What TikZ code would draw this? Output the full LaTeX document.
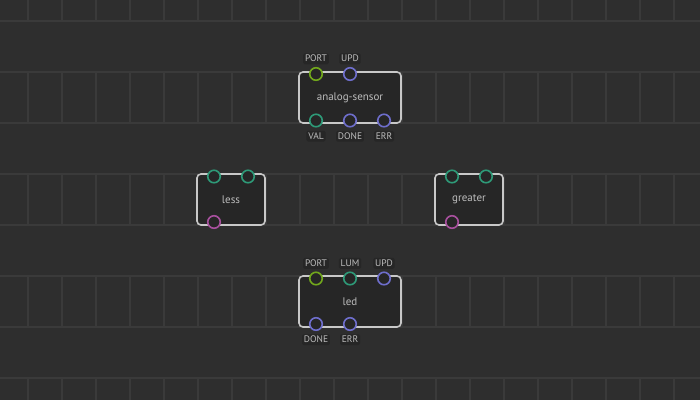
\documentclass[tikz,border=0pt]{standalone}
\usepackage{fontspec}
\setmainfont{PT Sans}
\usetikzlibrary{positioning}

\definecolor{bgcol}{HTML}{2E2E2E}
\definecolor{gridcol}{HTML}{3A3A3A}
\definecolor{boxcol}{HTML}{262626}
\definecolor{edgecol}{HTML}{C8C8C8}
\definecolor{textcol}{HTML}{BDBDBD}
\definecolor{cport}{HTML}{72A81C}
\definecolor{cpulse}{HTML}{6E6ECC}
\definecolor{cnum}{HTML}{2E9A78}
\definecolor{cbool}{HTML}{A8509E}

\begin{document}
\begin{tikzpicture}[x=1pt,y=-1pt,
  patch/.style={draw=edgecol, line width=1.6pt, fill=boxcol, rounded corners=4pt, minimum height=51pt, inner sep=0pt, text=textcol, font=\fontsize{11}{13}\selectfont},
  pin/.style={circle, draw=#1, line width=1.6pt, fill=boxcol, minimum size=12.5pt, inner sep=0pt},
  pinlabel/.style={fill=boxcol, rounded corners=1.5pt, text=textcol, font=\fontsize{9.5}{11}\selectfont, inner sep=1.8pt, text height=6.8pt, text depth=0.5pt}]
  % background and grid
  \fill[bgcol] (0,0) rectangle (700,400);
  \useasboundingbox (0,0) rectangle (700,400);
  \foreach \y in {21,72,...,378}
    \draw[gridcol, line width=1.8pt] (0,\y) -- (700,\y);
  \foreach \band in {-30,72,174,276,378}
    \foreach \x in {28,62,...,680}
      \draw[gridcol, line width=1.8pt] (\x,{max(\band,0)}) -- (\x,{min(\band+51,400)});

  % analog-sensor
  \node[patch, minimum width=102pt] (sensor) at (350,97.5) {analog-sensor};
  \node[pin=cport] (sensorPORT) at (316,74) {};
  \node[pin=cpulse] (sensorUPD) at (350,74) {};
  \node[pin=cnum] (sensorVAL) at (316,120.5) {};
  \node[pin=cpulse] (sensorDONE) at (350,120.5) {};
  \node[pin=cpulse] (sensorERR) at (384,120.5) {};
  \node[pinlabel, above=2.5pt of sensorPORT] (lsensorPORT) {PORT};
  \node[pinlabel, above=2.5pt of sensorUPD] (lsensorUPD) {UPD};
  \node[pinlabel, below=3pt of sensorVAL] (lsensorVAL) {VAL};
  \node[pinlabel, below=3pt of sensorDONE] (lsensorDONE) {DONE};
  \node[pinlabel, below=3pt of sensorERR] (lsensorERR) {ERR};

  % less
  \node[patch, minimum width=68pt] (less) at (231,199.5) {less};
  \node[pin=cnum] (lessX) at (214,176.5) {};
  \node[pin=cnum] (lessY) at (248,176.5) {};
  \node[pin=cbool] (lessR) at (214,222) {};

  % greater
  \node[patch, minimum width=68pt] (greater) at (469,199.5) {greater};
  \node[pin=cnum] (greaterX) at (452,176.5) {};
  \node[pin=cnum] (greaterY) at (486,176.5) {};
  \node[pin=cbool] (greaterR) at (452,222) {};

  % led
  \node[patch, minimum width=102pt] (led) at (350,301.5) {led};
  \node[pin=cport] (ledPORT) at (316,278.5) {};
  \node[pin=cnum] (ledLUM) at (350,278.5) {};
  \node[pin=cpulse] (ledUPD) at (384,278.5) {};
  \node[pin=cpulse] (ledDONE) at (316,324) {};
  \node[pin=cpulse] (ledERR) at (350,324) {};
  \node[pinlabel, above=2.5pt of ledPORT] (lledPORT) {PORT};
  \node[pinlabel, above=2.5pt of ledLUM] (lledLUM) {LUM};
  \node[pinlabel, above=2.5pt of ledUPD] (lledUPD) {UPD};
  \node[pinlabel, below=3pt of ledDONE] (lledDONE) {DONE};
  \node[pinlabel, below=3pt of ledERR] (lledERR) {ERR};
\end{tikzpicture}
\end{document}
